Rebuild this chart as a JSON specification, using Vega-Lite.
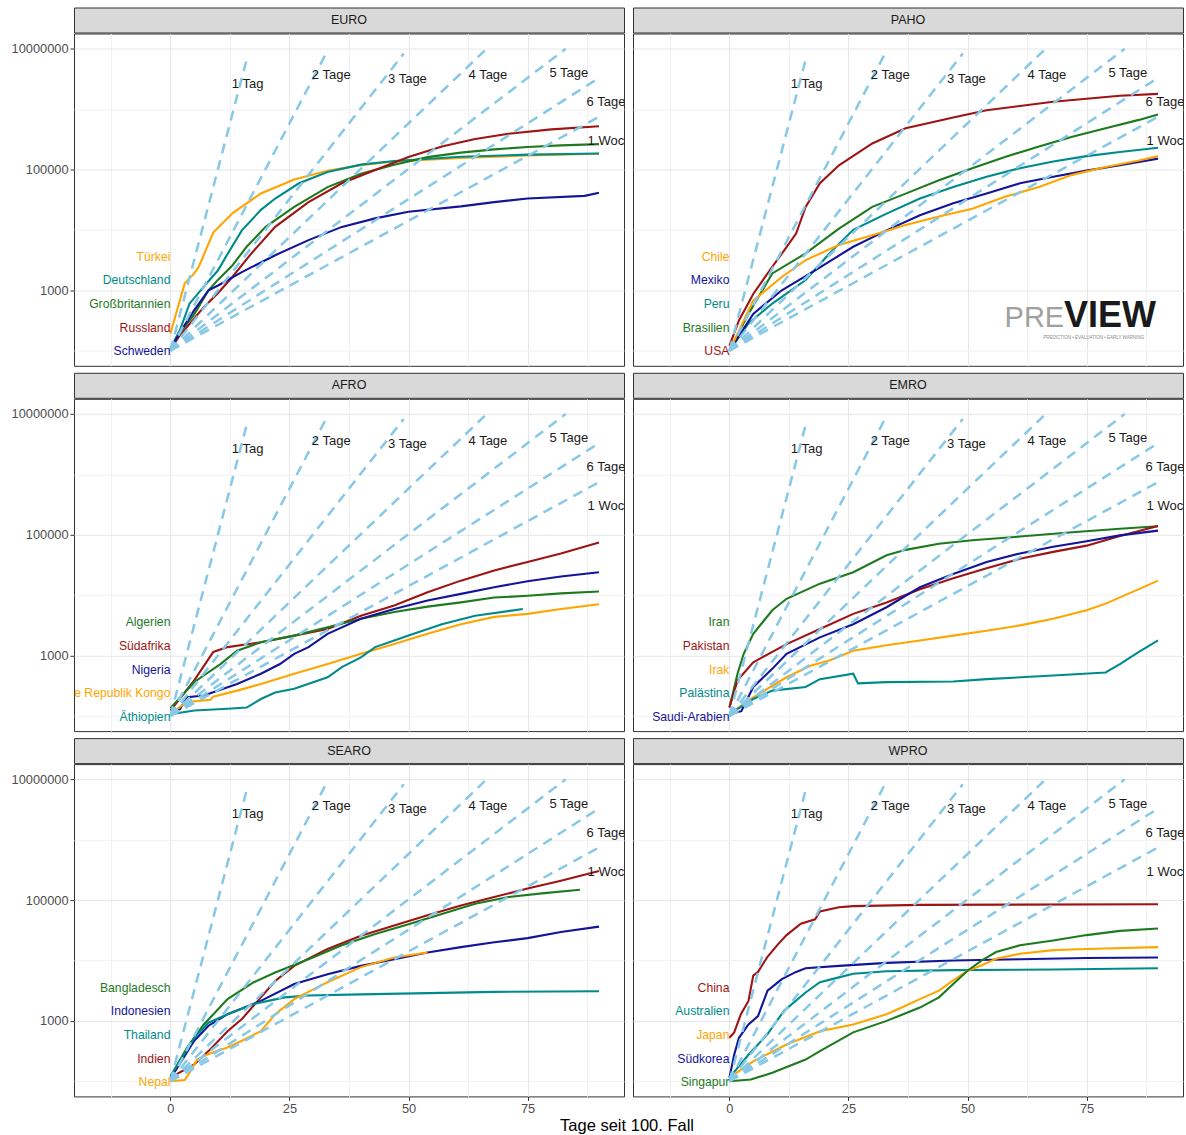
{
"$schema": "https://vega.github.io/schema/vega-lite/v6.json",
"padding": {"left": 10, "top": 6.5, "right": 0, "bottom": 0},
"background": "white",
"title": {"text": "Tage seit 100. Fall", "orient": "bottom", "anchor": "middle", "fontSize": 16.5, "fontWeight": "normal", "color": "#000000", "dx": 30, "offset": 2},
"config": {
  "font": "Liberation Sans",
  "view": {"stroke": "#333333", "strokeWidth": 1},
  "axis": {"labelColor": "#4D4D4D", "labelFontSize": 12.8, "tickColor": "#333333", "tickSize": 4, "labelPadding": 2, "domain": false, "title": null}
},
"datasets": {
"doubling": [
{"t":"1 Tag","d":0,"n":100},{"t":"1 Tag","d":16,"n":6553600},
{"t":"2 Tage","d":0,"n":100},{"t":"2 Tage","d":33,"n":9268190},
{"t":"3 Tage","d":0,"n":100},{"t":"3 Tage","d":49,"n":8256636},
{"t":"4 Tage","d":0,"n":100},{"t":"4 Tage","d":66,"n":9268190},
{"t":"5 Tage","d":0,"n":100},{"t":"5 Tage","d":83,"n":9933390},
{"t":"6 Tage","d":0,"n":100},{"t":"6 Tage","d":90,"n":3276800},
{"t":"1 Woche","d":0,"n":100},{"t":"1 Woche","d":90,"n":741800}
],
"dlabels": [
{"t":"1 Tag","d":12.9,"n":2630000},{"t":"2 Tage","d":29.7,"n":3600000},{"t":"3 Tage","d":45.7,"n":3200000},{"t":"4 Tage","d":62.6,"n":3600000},{"t":"5 Tage","d":79.6,"n":3940000},{"t":"6 Tage","d":87.4,"n":1300000},{"t":"1 Woche","d":87.6,"n":295000}
],
"clabels": [
{"r":"EURO","c":"Türkei","d":0,"n":3560},{"r":"EURO","c":"Deutschland","d":0,"n":1460},{"r":"EURO","c":"Großbritannien","d":0,"n":586},{"r":"EURO","c":"Russland","d":0,"n":238},{"r":"EURO","c":"Schweden","d":0,"n":98},
{"r":"PAHO","c":"Chile","d":0,"n":3560},{"r":"PAHO","c":"Mexiko","d":0,"n":1460},{"r":"PAHO","c":"Peru","d":0,"n":586},{"r":"PAHO","c":"Brasilien","d":0,"n":238},{"r":"PAHO","c":"USA","d":0,"n":98},
{"r":"AFRO","c":"Algerien","d":0,"n":3560},{"r":"AFRO","c":"Südafrika","d":0,"n":1460},{"r":"AFRO","c":"Nigeria","d":0,"n":586},{"r":"AFRO","c":"Demokratische Republik Kongo","d":0,"n":238},{"r":"AFRO","c":"Äthiopien","d":0,"n":98},
{"r":"EMRO","c":"Iran","d":0,"n":3560},{"r":"EMRO","c":"Pakistan","d":0,"n":1460},{"r":"EMRO","c":"Irak","d":0,"n":586},{"r":"EMRO","c":"Palästina","d":0,"n":238},{"r":"EMRO","c":"Saudi-Arabien","d":0,"n":98},
{"r":"SEARO","c":"Bangladesch","d":0,"n":3560},{"r":"SEARO","c":"Indonesien","d":0,"n":1460},{"r":"SEARO","c":"Thailand","d":0,"n":586},{"r":"SEARO","c":"Indien","d":0,"n":238},{"r":"SEARO","c":"Nepal","d":0,"n":98},
{"r":"WPRO","c":"China","d":0,"n":3560},{"r":"WPRO","c":"Australien","d":0,"n":1460},{"r":"WPRO","c":"Japan","d":0,"n":586},{"r":"WPRO","c":"Südkorea","d":0,"n":238},{"r":"WPRO","c":"Singapur","d":0,"n":98}
],
"cases": [
{"r":"EURO","c":"Türkei","d":0,"n":192},{"r":"EURO","c":"Türkei","d":3,"n":1300},{"r":"EURO","c":"Türkei","d":5,"n":1900},{"r":"EURO","c":"Türkei","d":6,"n":2500},{"r":"EURO","c":"Türkei","d":9,"n":9000},{"r":"EURO","c":"Türkei","d":13,"n":18800},{"r":"EURO","c":"Türkei","d":19,"n":40000},{"r":"EURO","c":"Türkei","d":26,"n":68000},{"r":"EURO","c":"Türkei","d":33,"n":95000},{"r":"EURO","c":"Türkei","d":40,"n":118000},{"r":"EURO","c":"Türkei","d":47,"n":135000},{"r":"EURO","c":"Türkei","d":61,"n":155000},{"r":"EURO","c":"Türkei","d":75,"n":170000},{"r":"EURO","c":"Türkei","d":90,"n":182000},
{"r":"EURO","c":"Deutschland","d":0,"n":110},{"r":"EURO","c":"Deutschland","d":2,"n":220},{"r":"EURO","c":"Deutschland","d":4,"n":600},{"r":"EURO","c":"Deutschland","d":7,"n":1150},{"r":"EURO","c":"Deutschland","d":10,"n":2140},{"r":"EURO","c":"Deutschland","d":12,"n":4000},{"r":"EURO","c":"Deutschland","d":15,"n":9800},{"r":"EURO","c":"Deutschland","d":19,"n":21400},{"r":"EURO","c":"Deutschland","d":22,"n":33000},{"r":"EURO","c":"Deutschland","d":27,"n":59000},{"r":"EURO","c":"Deutschland","d":33,"n":91000},{"r":"EURO","c":"Deutschland","d":40,"n":120000},{"r":"EURO","c":"Deutschland","d":47,"n":138000},{"r":"EURO","c":"Deutschland","d":61,"n":162000},{"r":"EURO","c":"Deutschland","d":75,"n":176000},{"r":"EURO","c":"Deutschland","d":90,"n":184000},
{"r":"EURO","c":"Großbritannien","d":0,"n":105},{"r":"EURO","c":"Großbritannien","d":2,"n":200},{"r":"EURO","c":"Großbritannien","d":5,"n":400},{"r":"EURO","c":"Großbritannien","d":8,"n":1000},{"r":"EURO","c":"Großbritannien","d":10,"n":1500},{"r":"EURO","c":"Großbritannien","d":13,"n":2570},{"r":"EURO","c":"Großbritannien","d":16,"n":5250},{"r":"EURO","c":"Großbritannien","d":20,"n":11200},{"r":"EURO","c":"Großbritannien","d":26,"n":24000},{"r":"EURO","c":"Großbritannien","d":33,"n":51000},{"r":"EURO","c":"Großbritannien","d":40,"n":85000},{"r":"EURO","c":"Großbritannien","d":47,"n":120000},{"r":"EURO","c":"Großbritannien","d":54,"n":160000},{"r":"EURO","c":"Großbritannien","d":61,"n":190000},{"r":"EURO","c":"Großbritannien","d":68,"n":215000},{"r":"EURO","c":"Großbritannien","d":75,"n":235000},{"r":"EURO","c":"Großbritannien","d":82,"n":250000},{"r":"EURO","c":"Großbritannien","d":90,"n":262000},
{"r":"EURO","c":"Russland","d":0,"n":105},{"r":"EURO","c":"Russland","d":2,"n":180},{"r":"EURO","c":"Russland","d":7,"n":525},{"r":"EURO","c":"Russland","d":10,"n":900},{"r":"EURO","c":"Russland","d":13,"n":1660},{"r":"EURO","c":"Russland","d":17,"n":4070},{"r":"EURO","c":"Russland","d":22,"n":11200},{"r":"EURO","c":"Russland","d":29,"n":28800},{"r":"EURO","c":"Russland","d":36,"n":59000},{"r":"EURO","c":"Russland","d":43,"n":98000},{"r":"EURO","c":"Russland","d":50,"n":160000},{"r":"EURO","c":"Russland","d":57,"n":240000},{"r":"EURO","c":"Russland","d":64,"n":320000},{"r":"EURO","c":"Russland","d":71,"n":390000},{"r":"EURO","c":"Russland","d":80,"n":460000},{"r":"EURO","c":"Russland","d":90,"n":520000},
{"r":"EURO","c":"Schweden","d":0,"n":105},{"r":"EURO","c":"Schweden","d":2,"n":200},{"r":"EURO","c":"Schweden","d":5,"n":470},{"r":"EURO","c":"Schweden","d":8,"n":1000},{"r":"EURO","c":"Schweden","d":10,"n":1200},{"r":"EURO","c":"Schweden","d":15,"n":2000},{"r":"EURO","c":"Schweden","d":22,"n":3800},{"r":"EURO","c":"Schweden","d":29,"n":6760},{"r":"EURO","c":"Schweden","d":36,"n":11200},{"r":"EURO","c":"Schweden","d":43,"n":15500},{"r":"EURO","c":"Schweden","d":50,"n":20000},{"r":"EURO","c":"Schweden","d":61,"n":24500},{"r":"EURO","c":"Schweden","d":68,"n":28800},{"r":"EURO","c":"Schweden","d":75,"n":33100},{"r":"EURO","c":"Schweden","d":87,"n":36500},{"r":"EURO","c":"Schweden","d":90,"n":41000},
{"r":"PAHO","c":"USA","d":0,"n":120},{"r":"PAHO","c":"USA","d":2,"n":316},{"r":"PAHO","c":"USA","d":5,"n":870},{"r":"PAHO","c":"USA","d":9,"n":2450},{"r":"PAHO","c":"USA","d":11.5,"n":4570},{"r":"PAHO","c":"USA","d":14,"n":8700},{"r":"PAHO","c":"USA","d":16,"n":24000},{"r":"PAHO","c":"USA","d":19,"n":59000},{"r":"PAHO","c":"USA","d":23,"n":117000},{"r":"PAHO","c":"USA","d":30,"n":269000},{"r":"PAHO","c":"USA","d":37,"n":479000},{"r":"PAHO","c":"USA","d":47,"n":724000},{"r":"PAHO","c":"USA","d":54,"n":955000},{"r":"PAHO","c":"USA","d":68,"n":1320000},{"r":"PAHO","c":"USA","d":82,"n":1660000},{"r":"PAHO","c":"USA","d":90,"n":1780000},
{"r":"PAHO","c":"Brasilien","d":0,"n":100},{"r":"PAHO","c":"Brasilien","d":4,"n":407},{"r":"PAHO","c":"Brasilien","d":9,"n":1900},{"r":"PAHO","c":"Brasilien","d":16,"n":4070},{"r":"PAHO","c":"Brasilien","d":23,"n":10500},{"r":"PAHO","c":"Brasilien","d":30,"n":24000},{"r":"PAHO","c":"Brasilien","d":37,"n":39800},{"r":"PAHO","c":"Brasilien","d":44,"n":66000},{"r":"PAHO","c":"Brasilien","d":51,"n":105000},{"r":"PAHO","c":"Brasilien","d":58,"n":162000},{"r":"PAHO","c":"Brasilien","d":65,"n":240000},{"r":"PAHO","c":"Brasilien","d":72,"n":347000},{"r":"PAHO","c":"Brasilien","d":79,"n":479000},{"r":"PAHO","c":"Brasilien","d":86,"n":661000},{"r":"PAHO","c":"Brasilien","d":90,"n":813000},
{"r":"PAHO","c":"Peru","d":0,"n":100},{"r":"PAHO","c":"Peru","d":4,"n":282},{"r":"PAHO","c":"Peru","d":9,"n":603},{"r":"PAHO","c":"Peru","d":16,"n":1480},{"r":"PAHO","c":"Peru","d":21,"n":4070},{"r":"PAHO","c":"Peru","d":26,"n":10000},{"r":"PAHO","c":"Peru","d":33,"n":18600},{"r":"PAHO","c":"Peru","d":40,"n":33100},{"r":"PAHO","c":"Peru","d":47,"n":51300},{"r":"PAHO","c":"Peru","d":54,"n":75900},{"r":"PAHO","c":"Peru","d":61,"n":105000},{"r":"PAHO","c":"Peru","d":68,"n":135000},{"r":"PAHO","c":"Peru","d":75,"n":166000},{"r":"PAHO","c":"Peru","d":82,"n":195000},{"r":"PAHO","c":"Peru","d":90,"n":229000},
{"r":"PAHO","c":"Mexiko","d":0,"n":100},{"r":"PAHO","c":"Mexiko","d":5,"n":407},{"r":"PAHO","c":"Mexiko","d":11,"n":1000},{"r":"PAHO","c":"Mexiko","d":18,"n":2140},{"r":"PAHO","c":"Mexiko","d":26,"n":5250},{"r":"PAHO","c":"Mexiko","d":33,"n":9800},{"r":"PAHO","c":"Mexiko","d":40,"n":17400},{"r":"PAHO","c":"Mexiko","d":47,"n":27500},{"r":"PAHO","c":"Mexiko","d":54,"n":39800},{"r":"PAHO","c":"Mexiko","d":61,"n":58900},{"r":"PAHO","c":"Mexiko","d":68,"n":75900},{"r":"PAHO","c":"Mexiko","d":75,"n":95500},{"r":"PAHO","c":"Mexiko","d":82,"n":117000},{"r":"PAHO","c":"Mexiko","d":90,"n":151000},
{"r":"PAHO","c":"Chile","d":0,"n":100},{"r":"PAHO","c":"Chile","d":5,"n":676},{"r":"PAHO","c":"Chile","d":11,"n":1660},{"r":"PAHO","c":"Chile","d":16,"n":3160},{"r":"PAHO","c":"Chile","d":23,"n":5620},{"r":"PAHO","c":"Chile","d":30,"n":8130},{"r":"PAHO","c":"Chile","d":37,"n":12000},{"r":"PAHO","c":"Chile","d":44,"n":16600},{"r":"PAHO","c":"Chile","d":51,"n":22400},{"r":"PAHO","c":"Chile","d":58,"n":35500},{"r":"PAHO","c":"Chile","d":65,"n":51300},{"r":"PAHO","c":"Chile","d":72,"n":81300},{"r":"PAHO","c":"Chile","d":79,"n":110000},{"r":"PAHO","c":"Chile","d":86,"n":141000},{"r":"PAHO","c":"Chile","d":90,"n":166000},
{"r":"AFRO","c":"Südafrika","d":0,"n":123},{"r":"AFRO","c":"Südafrika","d":5,"n":389},{"r":"AFRO","c":"Südafrika","d":9,"n":1150},{"r":"AFRO","c":"Südafrika","d":12,"n":1380},{"r":"AFRO","c":"Südafrika","d":19,"n":1660},{"r":"AFRO","c":"Südafrika","d":26,"n":2140},{"r":"AFRO","c":"Südafrika","d":33,"n":2750},{"r":"AFRO","c":"Südafrika","d":40,"n":4570},{"r":"AFRO","c":"Südafrika","d":47,"n":6760},{"r":"AFRO","c":"Südafrika","d":54,"n":11200},{"r":"AFRO","c":"Südafrika","d":61,"n":17400},{"r":"AFRO","c":"Südafrika","d":68,"n":25700},{"r":"AFRO","c":"Südafrika","d":75,"n":35500},{"r":"AFRO","c":"Südafrika","d":82,"n":49000},{"r":"AFRO","c":"Südafrika","d":90,"n":74100},
{"r":"AFRO","c":"Algerien","d":0,"n":135},{"r":"AFRO","c":"Algerien","d":5,"n":363},{"r":"AFRO","c":"Algerien","d":7,"n":468},{"r":"AFRO","c":"Algerien","d":10.5,"n":724},{"r":"AFRO","c":"Algerien","d":14,"n":1200},{"r":"AFRO","c":"Algerien","d":19,"n":1660},{"r":"AFRO","c":"Algerien","d":26,"n":2140},{"r":"AFRO","c":"Algerien","d":33,"n":2950},{"r":"AFRO","c":"Algerien","d":40,"n":4070},{"r":"AFRO","c":"Algerien","d":47,"n":5250},{"r":"AFRO","c":"Algerien","d":54,"n":6460},{"r":"AFRO","c":"Algerien","d":61,"n":7590},{"r":"AFRO","c":"Algerien","d":68,"n":9120},{"r":"AFRO","c":"Algerien","d":75,"n":9770},{"r":"AFRO","c":"Algerien","d":82,"n":10700},{"r":"AFRO","c":"Algerien","d":90,"n":11500},
{"r":"AFRO","c":"Nigeria","d":0,"n":110},{"r":"AFRO","c":"Nigeria","d":2,"n":130},{"r":"AFRO","c":"Nigeria","d":3.5,"n":204},{"r":"AFRO","c":"Nigeria","d":7,"n":219},{"r":"AFRO","c":"Nigeria","d":14,"n":339},{"r":"AFRO","c":"Nigeria","d":19,"n":501},{"r":"AFRO","c":"Nigeria","d":23,"n":724},{"r":"AFRO","c":"Nigeria","d":26,"n":1070},{"r":"AFRO","c":"Nigeria","d":29,"n":1380},{"r":"AFRO","c":"Nigeria","d":33,"n":2290},{"r":"AFRO","c":"Nigeria","d":40,"n":4070},{"r":"AFRO","c":"Nigeria","d":47,"n":5890},{"r":"AFRO","c":"Nigeria","d":54,"n":8130},{"r":"AFRO","c":"Nigeria","d":61,"n":10500},{"r":"AFRO","c":"Nigeria","d":68,"n":13500},{"r":"AFRO","c":"Nigeria","d":75,"n":17000},{"r":"AFRO","c":"Nigeria","d":82,"n":20400},{"r":"AFRO","c":"Nigeria","d":90,"n":24000},
{"r":"AFRO","c":"Demokratische Republik Kongo","d":0,"n":110},{"r":"AFRO","c":"Demokratische Republik Kongo","d":3.5,"n":170},{"r":"AFRO","c":"Demokratische Republik Kongo","d":8.4,"n":186},{"r":"AFRO","c":"Demokratische Republik Kongo","d":9,"n":209},{"r":"AFRO","c":"Demokratische Republik Kongo","d":14,"n":263},{"r":"AFRO","c":"Demokratische Republik Kongo","d":19,"n":339},{"r":"AFRO","c":"Demokratische Republik Kongo","d":26,"n":501},{"r":"AFRO","c":"Demokratische Republik Kongo","d":33,"n":724},{"r":"AFRO","c":"Demokratische Republik Kongo","d":40,"n":1070},{"r":"AFRO","c":"Demokratische Republik Kongo","d":47,"n":1550},{"r":"AFRO","c":"Demokratische Republik Kongo","d":54,"n":2290},{"r":"AFRO","c":"Demokratische Republik Kongo","d":61,"n":3310},{"r":"AFRO","c":"Demokratische Republik Kongo","d":68,"n":4370},{"r":"AFRO","c":"Demokratische Republik Kongo","d":75,"n":4900},{"r":"AFRO","c":"Demokratische Republik Kongo","d":82,"n":5890},{"r":"AFRO","c":"Demokratische Republik Kongo","d":90,"n":7080},
{"r":"AFRO","c":"Äthiopien","d":0,"n":107},{"r":"AFRO","c":"Äthiopien","d":5,"n":123},{"r":"AFRO","c":"Äthiopien","d":12,"n":132},{"r":"AFRO","c":"Äthiopien","d":16,"n":138},{"r":"AFRO","c":"Äthiopien","d":19,"n":191},{"r":"AFRO","c":"Äthiopien","d":22,"n":245},{"r":"AFRO","c":"Äthiopien","d":26,"n":282},{"r":"AFRO","c":"Äthiopien","d":33,"n":437},{"r":"AFRO","c":"Äthiopien","d":36,"n":646},{"r":"AFRO","c":"Äthiopien","d":40,"n":933},{"r":"AFRO","c":"Äthiopien","d":43,"n":1380},{"r":"AFRO","c":"Äthiopien","d":47,"n":1780},{"r":"AFRO","c":"Äthiopien","d":50,"n":2140},{"r":"AFRO","c":"Äthiopien","d":57,"n":3310},{"r":"AFRO","c":"Äthiopien","d":64,"n":4570},{"r":"AFRO","c":"Äthiopien","d":74,"n":5890},
{"r":"EMRO","c":"Iran","d":0,"n":138},{"r":"EMRO","c":"Iran","d":1.7,"n":501},{"r":"EMRO","c":"Iran","d":3,"n":1070},{"r":"EMRO","c":"Iran","d":5,"n":2290},{"r":"EMRO","c":"Iran","d":9,"n":5620},{"r":"EMRO","c":"Iran","d":12,"n":8710},{"r":"EMRO","c":"Iran","d":19,"n":15500},{"r":"EMRO","c":"Iran","d":26,"n":24000},{"r":"EMRO","c":"Iran","d":33,"n":45700},{"r":"EMRO","c":"Iran","d":37,"n":56200},{"r":"EMRO","c":"Iran","d":44,"n":70800},{"r":"EMRO","c":"Iran","d":51,"n":81300},{"r":"EMRO","c":"Iran","d":61,"n":93300},{"r":"EMRO","c":"Iran","d":72,"n":110000},{"r":"EMRO","c":"Iran","d":82,"n":126000},{"r":"EMRO","c":"Iran","d":90,"n":138000},
{"r":"EMRO","c":"Pakistan","d":0,"n":138},{"r":"EMRO","c":"Pakistan","d":1.7,"n":389},{"r":"EMRO","c":"Pakistan","d":5,"n":776},{"r":"EMRO","c":"Pakistan","d":9,"n":1150},{"r":"EMRO","c":"Pakistan","d":12,"n":1550},{"r":"EMRO","c":"Pakistan","d":19,"n":2750},{"r":"EMRO","c":"Pakistan","d":26,"n":4900},{"r":"EMRO","c":"Pakistan","d":33,"n":7590},{"r":"EMRO","c":"Pakistan","d":40,"n":12500},{"r":"EMRO","c":"Pakistan","d":47,"n":19000},{"r":"EMRO","c":"Pakistan","d":54,"n":28000},{"r":"EMRO","c":"Pakistan","d":61,"n":40000},{"r":"EMRO","c":"Pakistan","d":68,"n":52000},{"r":"EMRO","c":"Pakistan","d":75,"n":66000},{"r":"EMRO","c":"Pakistan","d":82,"n":95000},{"r":"EMRO","c":"Pakistan","d":90,"n":140000},
{"r":"EMRO","c":"Saudi-Arabien","d":0,"n":107},{"r":"EMRO","c":"Saudi-Arabien","d":2.5,"n":120},{"r":"EMRO","c":"Saudi-Arabien","d":5,"n":302},{"r":"EMRO","c":"Saudi-Arabien","d":9,"n":603},{"r":"EMRO","c":"Saudi-Arabien","d":12,"n":1070},{"r":"EMRO","c":"Saudi-Arabien","d":19,"n":2000},{"r":"EMRO","c":"Saudi-Arabien","d":26,"n":3310},{"r":"EMRO","c":"Saudi-Arabien","d":33,"n":6310},{"r":"EMRO","c":"Saudi-Arabien","d":37,"n":9770},{"r":"EMRO","c":"Saudi-Arabien","d":40,"n":13500},{"r":"EMRO","c":"Saudi-Arabien","d":47,"n":22400},{"r":"EMRO","c":"Saudi-Arabien","d":54,"n":35500},{"r":"EMRO","c":"Saudi-Arabien","d":61,"n":49000},{"r":"EMRO","c":"Saudi-Arabien","d":68,"n":63100},{"r":"EMRO","c":"Saudi-Arabien","d":75,"n":78000},{"r":"EMRO","c":"Saudi-Arabien","d":82,"n":97700},{"r":"EMRO","c":"Saudi-Arabien","d":90,"n":117000},
{"r":"EMRO","c":"Irak","d":0,"n":107},{"r":"EMRO","c":"Irak","d":5,"n":204},{"r":"EMRO","c":"Irak","d":12,"n":437},{"r":"EMRO","c":"Irak","d":17,"n":676},{"r":"EMRO","c":"Irak","d":21,"n":832},{"r":"EMRO","c":"Irak","d":26,"n":1200},{"r":"EMRO","c":"Irak","d":33,"n":1480},{"r":"EMRO","c":"Irak","d":40,"n":1780},{"r":"EMRO","c":"Irak","d":47,"n":2140},{"r":"EMRO","c":"Irak","d":54,"n":2570},{"r":"EMRO","c":"Irak","d":61,"n":3160},{"r":"EMRO","c":"Irak","d":68,"n":4070},{"r":"EMRO","c":"Irak","d":75,"n":5620},{"r":"EMRO","c":"Irak","d":79,"n":7240},{"r":"EMRO","c":"Irak","d":86,"n":12600},{"r":"EMRO","c":"Irak","d":90,"n":17400},
{"r":"EMRO","c":"Palästina","d":0,"n":107},{"r":"EMRO","c":"Palästina","d":5,"n":191},{"r":"EMRO","c":"Palästina","d":9,"n":263},{"r":"EMRO","c":"Palästina","d":16,"n":302},{"r":"EMRO","c":"Palästina","d":19,"n":407},{"r":"EMRO","c":"Palästina","d":26,"n":501},{"r":"EMRO","c":"Palästina","d":27,"n":347},{"r":"EMRO","c":"Palästina","d":33,"n":363},{"r":"EMRO","c":"Palästina","d":47,"n":372},{"r":"EMRO","c":"Palästina","d":54,"n":407},{"r":"EMRO","c":"Palästina","d":68,"n":468},{"r":"EMRO","c":"Palästina","d":79,"n":525},{"r":"EMRO","c":"Palästina","d":82,"n":724},{"r":"EMRO","c":"Palästina","d":86,"n":1150},{"r":"EMRO","c":"Palästina","d":90,"n":1780},
{"r":"SEARO","c":"Indien","d":0,"n":115},{"r":"SEARO","c":"Indien","d":5,"n":191},{"r":"SEARO","c":"Indien","d":8,"n":316},{"r":"SEARO","c":"Indien","d":12,"n":676},{"r":"SEARO","c":"Indien","d":15,"n":1070},{"r":"SEARO","c":"Indien","d":19,"n":2450},{"r":"SEARO","c":"Indien","d":22,"n":4570},{"r":"SEARO","c":"Indien","d":26,"n":8130},{"r":"SEARO","c":"Indien","d":33,"n":15500},{"r":"SEARO","c":"Indien","d":40,"n":25700},{"r":"SEARO","c":"Indien","d":47,"n":38000},{"r":"SEARO","c":"Indien","d":54,"n":56200},{"r":"SEARO","c":"Indien","d":61,"n":81300},{"r":"SEARO","c":"Indien","d":68,"n":112000},{"r":"SEARO","c":"Indien","d":75,"n":155000},{"r":"SEARO","c":"Indien","d":82,"n":209000},{"r":"SEARO","c":"Indien","d":90,"n":302000},
{"r":"SEARO","c":"Bangladesch","d":0,"n":120},{"r":"SEARO","c":"Bangladesch","d":3.5,"n":363},{"r":"SEARO","c":"Bangladesch","d":7,"n":871},{"r":"SEARO","c":"Bangladesch","d":12,"n":2290},{"r":"SEARO","c":"Bangladesch","d":17.5,"n":4370},{"r":"SEARO","c":"Bangladesch","d":22,"n":6310},{"r":"SEARO","c":"Bangladesch","d":29,"n":10500},{"r":"SEARO","c":"Bangladesch","d":36,"n":17800},{"r":"SEARO","c":"Bangladesch","d":43,"n":27500},{"r":"SEARO","c":"Bangladesch","d":50,"n":39800},{"r":"SEARO","c":"Bangladesch","d":57,"n":58900},{"r":"SEARO","c":"Bangladesch","d":64,"n":87100},{"r":"SEARO","c":"Bangladesch","d":71,"n":112000},{"r":"SEARO","c":"Bangladesch","d":78,"n":129000},{"r":"SEARO","c":"Bangladesch","d":86,"n":148000},
{"r":"SEARO","c":"Indonesien","d":0,"n":110},{"r":"SEARO","c":"Indonesien","d":5,"n":468},{"r":"SEARO","c":"Indonesien","d":8,"n":832},{"r":"SEARO","c":"Indonesien","d":12,"n":1290},{"r":"SEARO","c":"Indonesien","d":19,"n":2140},{"r":"SEARO","c":"Indonesien","d":26,"n":4070},{"r":"SEARO","c":"Indonesien","d":33,"n":5890},{"r":"SEARO","c":"Indonesien","d":40,"n":8130},{"r":"SEARO","c":"Indonesien","d":47,"n":10500},{"r":"SEARO","c":"Indonesien","d":54,"n":13500},{"r":"SEARO","c":"Indonesien","d":61,"n":16600},{"r":"SEARO","c":"Indonesien","d":68,"n":20000},{"r":"SEARO","c":"Indonesien","d":75,"n":23400},{"r":"SEARO","c":"Indonesien","d":82,"n":29500},{"r":"SEARO","c":"Indonesien","d":90,"n":36300},
{"r":"SEARO","c":"Thailand","d":0,"n":120},{"r":"SEARO","c":"Thailand","d":5,"n":525},{"r":"SEARO","c":"Thailand","d":8,"n":933},{"r":"SEARO","c":"Thailand","d":12,"n":1290},{"r":"SEARO","c":"Thailand","d":17.5,"n":1910},{"r":"SEARO","c":"Thailand","d":24,"n":2450},{"r":"SEARO","c":"Thailand","d":29,"n":2630},{"r":"SEARO","c":"Thailand","d":40,"n":2750},{"r":"SEARO","c":"Thailand","d":54,"n":2880},{"r":"SEARO","c":"Thailand","d":68,"n":3020},{"r":"SEARO","c":"Thailand","d":90,"n":3090},
{"r":"SEARO","c":"Nepal","d":0,"n":100},{"r":"SEARO","c":"Nepal","d":3,"n":105},{"r":"SEARO","c":"Nepal","d":4,"n":138},{"r":"SEARO","c":"Nepal","d":5.6,"n":229},{"r":"SEARO","c":"Nepal","d":8,"n":282},{"r":"SEARO","c":"Nepal","d":12,"n":363},{"r":"SEARO","c":"Nepal","d":15,"n":468},{"r":"SEARO","c":"Nepal","d":19,"n":676},{"r":"SEARO","c":"Nepal","d":22,"n":1290},{"r":"SEARO","c":"Nepal","d":26,"n":2290},{"r":"SEARO","c":"Nepal","d":33,"n":4370},{"r":"SEARO","c":"Nepal","d":40,"n":7760},{"r":"SEARO","c":"Nepal","d":47,"n":11200},{"r":"SEARO","c":"Nepal","d":54,"n":13500},
{"r":"WPRO","c":"China","d":0,"n":525},{"r":"WPRO","c":"China","d":1,"n":646},{"r":"WPRO","c":"China","d":2.4,"n":1290},{"r":"WPRO","c":"China","d":4,"n":2140},{"r":"WPRO","c":"China","d":5,"n":5620},{"r":"WPRO","c":"China","d":6,"n":6460},{"r":"WPRO","c":"China","d":8,"n":11500},{"r":"WPRO","c":"China","d":10,"n":17800},{"r":"WPRO","c":"China","d":12,"n":26300},{"r":"WPRO","c":"China","d":15,"n":40700},{"r":"WPRO","c":"China","d":18,"n":47900},{"r":"WPRO","c":"China","d":19,"n":64600},{"r":"WPRO","c":"China","d":23,"n":75900},{"r":"WPRO","c":"China","d":26,"n":79400},{"r":"WPRO","c":"China","d":40,"n":83200},{"r":"WPRO","c":"China","d":90,"n":85100},
{"r":"WPRO","c":"Südkorea","d":0,"n":115},{"r":"WPRO","c":"Südkorea","d":1,"n":275},{"r":"WPRO","c":"Südkorea","d":2,"n":525},{"r":"WPRO","c":"Südkorea","d":4,"n":871},{"r":"WPRO","c":"Südkorea","d":6,"n":1200},{"r":"WPRO","c":"Südkorea","d":8,"n":3160},{"r":"WPRO","c":"Südkorea","d":11,"n":4900},{"r":"WPRO","c":"Südkorea","d":14,"n":6460},{"r":"WPRO","c":"Südkorea","d":16,"n":7410},{"r":"WPRO","c":"Südkorea","d":23,"n":8130},{"r":"WPRO","c":"Südkorea","d":33,"n":9120},{"r":"WPRO","c":"Südkorea","d":47,"n":10000},{"r":"WPRO","c":"Südkorea","d":61,"n":10500},{"r":"WPRO","c":"Südkorea","d":75,"n":11000},{"r":"WPRO","c":"Südkorea","d":90,"n":11200},
{"r":"WPRO","c":"Australien","d":0,"n":115},{"r":"WPRO","c":"Australien","d":4,"n":275},{"r":"WPRO","c":"Australien","d":8,"n":603},{"r":"WPRO","c":"Australien","d":11.5,"n":1480},{"r":"WPRO","c":"Australien","d":16,"n":2950},{"r":"WPRO","c":"Australien","d":19,"n":4370},{"r":"WPRO","c":"Australien","d":23,"n":5250},{"r":"WPRO","c":"Australien","d":26,"n":6030},{"r":"WPRO","c":"Australien","d":33,"n":6610},{"r":"WPRO","c":"Australien","d":47,"n":6920},{"r":"WPRO","c":"Australien","d":68,"n":7080},{"r":"WPRO","c":"Australien","d":90,"n":7410},
{"r":"WPRO","c":"Japan","d":0,"n":115},{"r":"WPRO","c":"Japan","d":5,"n":214},{"r":"WPRO","c":"Japan","d":12,"n":407},{"r":"WPRO","c":"Japan","d":19,"n":676},{"r":"WPRO","c":"Japan","d":26,"n":871},{"r":"WPRO","c":"Japan","d":33,"n":1290},{"r":"WPRO","c":"Japan","d":37,"n":1780},{"r":"WPRO","c":"Japan","d":40,"n":2290},{"r":"WPRO","c":"Japan","d":44,"n":3160},{"r":"WPRO","c":"Japan","d":47,"n":4680},{"r":"WPRO","c":"Japan","d":50,"n":6760},{"r":"WPRO","c":"Japan","d":53,"n":8320},{"r":"WPRO","c":"Japan","d":56,"n":10700},{"r":"WPRO","c":"Japan","d":61,"n":12900},{"r":"WPRO","c":"Japan","d":68,"n":14800},{"r":"WPRO","c":"Japan","d":75,"n":15500},{"r":"WPRO","c":"Japan","d":90,"n":16600},
{"r":"WPRO","c":"Singapur","d":0,"n":100},{"r":"WPRO","c":"Singapur","d":4.5,"n":107},{"r":"WPRO","c":"Singapur","d":9,"n":138},{"r":"WPRO","c":"Singapur","d":16,"n":229},{"r":"WPRO","c":"Singapur","d":19,"n":316},{"r":"WPRO","c":"Singapur","d":26,"n":646},{"r":"WPRO","c":"Singapur","d":33,"n":1000},{"r":"WPRO","c":"Singapur","d":40,"n":1660},{"r":"WPRO","c":"Singapur","d":44,"n":2450},{"r":"WPRO","c":"Singapur","d":47,"n":4070},{"r":"WPRO","c":"Singapur","d":50,"n":6760},{"r":"WPRO","c":"Singapur","d":53,"n":10000},{"r":"WPRO","c":"Singapur","d":56,"n":13800},{"r":"WPRO","c":"Singapur","d":61,"n":17800},{"r":"WPRO","c":"Singapur","d":68,"n":21400},{"r":"WPRO","c":"Singapur","d":75,"n":26300},{"r":"WPRO","c":"Singapur","d":82,"n":30900},{"r":"WPRO","c":"Singapur","d":90,"n":33900}
]
},
"spacing": 5.3,
"vconcat": [
{"spacing": 7, "hconcat": [
 {"spacing": -1, "vconcat": [
  {"width": 550, "height": 25, "data": {"values": [{"r": "EURO"}]}, "view": {"fill": "#D9D9D9", "stroke": "#333333"}, "mark": {"type": "text", "fontSize": 12.5, "color": "#1A1A1A"}, "encoding": {"text": {"field": "r", "type": "nominal"}}},
  {"width": 550, "height": 332.3,
   "encoding": {
    "x": {"field": "d", "type": "quantitative", "scale": {"domain": [-20.25, 95.25], "nice": false, "zero": false}, "axis": {"values": [-12.5, 0, 12.5, 25, 37.5, 50, 62.5, 75, 87.5], "labels": false, "ticks": false, "minExtent": 0, "maxExtent": 0, "gridColor": {"condition": {"test": "datum.value % 25 == 0", "value": "#E6E6E6"}, "value": "#F2F2F2"}}},
    "y": {"field": "n", "type": "quantitative", "scale": {"type": "log", "domain": [56.234, 17782794], "nice": false}, "axis": {"values": [100, 1000, 10000, 100000, 1000000, 10000000], "format": "d", "labelExpr": "(datum.value == 1000 || datum.value == 100000 || datum.value == 10000000) ? datum.label : ''", "tickOpacity": {"condition": {"test": "datum.value == 1000 || datum.value == 100000 || datum.value == 10000000", "value": 1}, "value": 0}, "gridColor": {"condition": {"test": "datum.value == 1000 || datum.value == 100000 || datum.value == 10000000", "value": "#E6E6E6"}, "value": "#F2F2F2"}}}
   },
   "layer": [
    {"data": {"name": "cases"}, "transform": [{"filter": "datum.r == 'EURO'"}], "mark": {"type": "line", "strokeWidth": 2.1, "clip": true}, "encoding": {"color": {"field": "c", "type": "nominal", "legend": null, "scale": {"domain": ["Türkei","Deutschland","Großbritannien","Russland","Schweden","Chile","Mexiko","Peru","Brasilien","USA","Algerien","Südafrika","Nigeria","Demokratische Republik Kongo","Äthiopien","Iran","Pakistan","Irak","Palästina","Saudi-Arabien","Bangladesch","Indonesien","Thailand","Indien","Nepal","China","Australien","Japan","Südkorea","Singapur"], "range": ["#FFA500","#008B8B","#1E7A1E","#9E1414","#14149A","#FFA500","#14149A","#008B8B","#1E7A1E","#9E1414","#1E7A1E","#9E1414","#14149A","#FFA500","#008B8B","#1E7A1E","#9E1414","#FFA500","#008B8B","#14149A","#1E7A1E","#14149A","#008B8B","#9E1414","#FFA500","#9E1414","#008B8B","#FFA500","#14149A","#1E7A1E"]}}}},
    {"data": {"name": "doubling"}, "mark": {"type": "line", "strokeWidth": 2.5, "strokeDash": [10, 7], "color": "#87C8E6", "clip": true}, "encoding": {"detail": {"field": "t", "type": "nominal"}}},
    {"data": {"name": "dlabels"}, "mark": {"type": "text", "align": "left", "baseline": "middle", "fontSize": 13, "color": "#1A1A1A", "clip": true}, "encoding": {"text": {"field": "t", "type": "nominal"}}},
    {"data": {"name": "clabels"}, "transform": [{"filter": "datum.r == 'EURO'"}], "mark": {"type": "text", "align": "right", "baseline": "middle", "fontSize": 12.2, "clip": true}, "encoding": {"text": {"field": "c", "type": "nominal"}, "color": {"field": "c", "type": "nominal", "legend": null}}}
   ]}
 ]},
 {"spacing": -1, "vconcat": [
  {"width": 550, "height": 25, "data": {"values": [{"r": "PAHO"}]}, "view": {"fill": "#D9D9D9", "stroke": "#333333"}, "mark": {"type": "text", "fontSize": 12.5, "color": "#1A1A1A"}, "encoding": {"text": {"field": "r", "type": "nominal"}}},
  {"width": 550, "height": 332.3,
   "encoding": {
    "x": {"field": "d", "type": "quantitative", "scale": {"domain": [-20.25, 95.25], "nice": false, "zero": false}, "axis": {"values": [-12.5, 0, 12.5, 25, 37.5, 50, 62.5, 75, 87.5], "labels": false, "ticks": false, "minExtent": 0, "maxExtent": 0, "gridColor": {"condition": {"test": "datum.value % 25 == 0", "value": "#E6E6E6"}, "value": "#F2F2F2"}}},
    "y": {"field": "n", "type": "quantitative", "scale": {"type": "log", "domain": [56.234, 17782794], "nice": false}, "axis": {"values": [100, 1000, 10000, 100000, 1000000, 10000000], "labels": false, "ticks": false, "minExtent": 0, "maxExtent": 0, "gridColor": {"condition": {"test": "datum.value == 1000 || datum.value == 100000 || datum.value == 10000000", "value": "#E6E6E6"}, "value": "#F2F2F2"}}}
   },
   "layer": [
    {"data": {"name": "cases"}, "transform": [{"filter": "datum.r == 'PAHO'"}], "mark": {"type": "line", "strokeWidth": 2.1, "clip": true}, "encoding": {"color": {"field": "c", "type": "nominal", "legend": null, "scale": {"domain": ["Türkei","Deutschland","Großbritannien","Russland","Schweden","Chile","Mexiko","Peru","Brasilien","USA","Algerien","Südafrika","Nigeria","Demokratische Republik Kongo","Äthiopien","Iran","Pakistan","Irak","Palästina","Saudi-Arabien","Bangladesch","Indonesien","Thailand","Indien","Nepal","China","Australien","Japan","Südkorea","Singapur"], "range": ["#FFA500","#008B8B","#1E7A1E","#9E1414","#14149A","#FFA500","#14149A","#008B8B","#1E7A1E","#9E1414","#1E7A1E","#9E1414","#14149A","#FFA500","#008B8B","#1E7A1E","#9E1414","#FFA500","#008B8B","#14149A","#1E7A1E","#14149A","#008B8B","#9E1414","#FFA500","#9E1414","#008B8B","#FFA500","#14149A","#1E7A1E"]}}}},
    {"data": {"name": "doubling"}, "mark": {"type": "line", "strokeWidth": 2.5, "strokeDash": [10, 7], "color": "#87C8E6", "clip": true}, "encoding": {"detail": {"field": "t", "type": "nominal"}}},
    {"data": {"name": "dlabels"}, "mark": {"type": "text", "align": "left", "baseline": "middle", "fontSize": 13, "color": "#1A1A1A", "clip": true}, "encoding": {"text": {"field": "t", "type": "nominal"}}},
    {"data": {"name": "clabels"}, "transform": [{"filter": "datum.r == 'PAHO'"}], "mark": {"type": "text", "align": "right", "baseline": "middle", "fontSize": 12.2, "clip": true}, "encoding": {"text": {"field": "c", "type": "nominal"}, "color": {"field": "c", "type": "nominal", "legend": null}}},
    {"data": {"values": [{"w": "PRE", "d": 70.3, "n": 245}]}, "mark": {"type": "text", "align": "right", "baseline": "alphabetic", "fontSize": 29, "color": "#A0A0A0"}, "encoding": {"text": {"field": "w", "type": "nominal"}}},
    {"data": {"values": [{"w": "VIEW", "d": 89.6, "n": 245}]}, "mark": {"type": "text", "align": "right", "baseline": "alphabetic", "fontSize": 36, "fontWeight": "bold", "color": "#1A1A1A"}, "encoding": {"text": {"field": "w", "type": "nominal"}}},
    {"data": {"values": [{"w": "PREDICTION • EVALUATION • EARLY WARNING", "d": 65.9, "n": 160}]}, "mark": {"type": "text", "align": "left", "baseline": "middle", "fontSize": 4.5, "color": "#8A8A8A"}, "encoding": {"text": {"field": "w", "type": "nominal"}}}
   ]}
 ]}
]},
{"spacing": 7, "hconcat": [
 {"spacing": -1, "vconcat": [
  {"width": 550, "height": 25, "data": {"values": [{"r": "AFRO"}]}, "view": {"fill": "#D9D9D9", "stroke": "#333333"}, "mark": {"type": "text", "fontSize": 12.5, "color": "#1A1A1A"}, "encoding": {"text": {"field": "r", "type": "nominal"}}},
  {"width": 550, "height": 332.3,
   "encoding": {
    "x": {"field": "d", "type": "quantitative", "scale": {"domain": [-20.25, 95.25], "nice": false, "zero": false}, "axis": {"values": [-12.5, 0, 12.5, 25, 37.5, 50, 62.5, 75, 87.5], "labels": false, "ticks": false, "minExtent": 0, "maxExtent": 0, "gridColor": {"condition": {"test": "datum.value % 25 == 0", "value": "#E6E6E6"}, "value": "#F2F2F2"}}},
    "y": {"field": "n", "type": "quantitative", "scale": {"type": "log", "domain": [56.234, 17782794], "nice": false}, "axis": {"values": [100, 1000, 10000, 100000, 1000000, 10000000], "format": "d", "labelExpr": "(datum.value == 1000 || datum.value == 100000 || datum.value == 10000000) ? datum.label : ''", "tickOpacity": {"condition": {"test": "datum.value == 1000 || datum.value == 100000 || datum.value == 10000000", "value": 1}, "value": 0}, "gridColor": {"condition": {"test": "datum.value == 1000 || datum.value == 100000 || datum.value == 10000000", "value": "#E6E6E6"}, "value": "#F2F2F2"}}}
   },
   "layer": [
    {"data": {"name": "cases"}, "transform": [{"filter": "datum.r == 'AFRO'"}], "mark": {"type": "line", "strokeWidth": 2.1, "clip": true}, "encoding": {"color": {"field": "c", "type": "nominal", "legend": null, "scale": {"domain": ["Türkei","Deutschland","Großbritannien","Russland","Schweden","Chile","Mexiko","Peru","Brasilien","USA","Algerien","Südafrika","Nigeria","Demokratische Republik Kongo","Äthiopien","Iran","Pakistan","Irak","Palästina","Saudi-Arabien","Bangladesch","Indonesien","Thailand","Indien","Nepal","China","Australien","Japan","Südkorea","Singapur"], "range": ["#FFA500","#008B8B","#1E7A1E","#9E1414","#14149A","#FFA500","#14149A","#008B8B","#1E7A1E","#9E1414","#1E7A1E","#9E1414","#14149A","#FFA500","#008B8B","#1E7A1E","#9E1414","#FFA500","#008B8B","#14149A","#1E7A1E","#14149A","#008B8B","#9E1414","#FFA500","#9E1414","#008B8B","#FFA500","#14149A","#1E7A1E"]}}}},
    {"data": {"name": "doubling"}, "mark": {"type": "line", "strokeWidth": 2.5, "strokeDash": [10, 7], "color": "#87C8E6", "clip": true}, "encoding": {"detail": {"field": "t", "type": "nominal"}}},
    {"data": {"name": "dlabels"}, "mark": {"type": "text", "align": "left", "baseline": "middle", "fontSize": 13, "color": "#1A1A1A", "clip": true}, "encoding": {"text": {"field": "t", "type": "nominal"}}},
    {"data": {"name": "clabels"}, "transform": [{"filter": "datum.r == 'AFRO'"}], "mark": {"type": "text", "align": "right", "baseline": "middle", "fontSize": 12.2, "clip": true}, "encoding": {"text": {"field": "c", "type": "nominal"}, "color": {"field": "c", "type": "nominal", "legend": null}}}
   ]}
 ]},
 {"spacing": -1, "vconcat": [
  {"width": 550, "height": 25, "data": {"values": [{"r": "EMRO"}]}, "view": {"fill": "#D9D9D9", "stroke": "#333333"}, "mark": {"type": "text", "fontSize": 12.5, "color": "#1A1A1A"}, "encoding": {"text": {"field": "r", "type": "nominal"}}},
  {"width": 550, "height": 332.3,
   "encoding": {
    "x": {"field": "d", "type": "quantitative", "scale": {"domain": [-20.25, 95.25], "nice": false, "zero": false}, "axis": {"values": [-12.5, 0, 12.5, 25, 37.5, 50, 62.5, 75, 87.5], "labels": false, "ticks": false, "minExtent": 0, "maxExtent": 0, "gridColor": {"condition": {"test": "datum.value % 25 == 0", "value": "#E6E6E6"}, "value": "#F2F2F2"}}},
    "y": {"field": "n", "type": "quantitative", "scale": {"type": "log", "domain": [56.234, 17782794], "nice": false}, "axis": {"values": [100, 1000, 10000, 100000, 1000000, 10000000], "labels": false, "ticks": false, "minExtent": 0, "maxExtent": 0, "gridColor": {"condition": {"test": "datum.value == 1000 || datum.value == 100000 || datum.value == 10000000", "value": "#E6E6E6"}, "value": "#F2F2F2"}}}
   },
   "layer": [
    {"data": {"name": "cases"}, "transform": [{"filter": "datum.r == 'EMRO'"}], "mark": {"type": "line", "strokeWidth": 2.1, "clip": true}, "encoding": {"color": {"field": "c", "type": "nominal", "legend": null, "scale": {"domain": ["Türkei","Deutschland","Großbritannien","Russland","Schweden","Chile","Mexiko","Peru","Brasilien","USA","Algerien","Südafrika","Nigeria","Demokratische Republik Kongo","Äthiopien","Iran","Pakistan","Irak","Palästina","Saudi-Arabien","Bangladesch","Indonesien","Thailand","Indien","Nepal","China","Australien","Japan","Südkorea","Singapur"], "range": ["#FFA500","#008B8B","#1E7A1E","#9E1414","#14149A","#FFA500","#14149A","#008B8B","#1E7A1E","#9E1414","#1E7A1E","#9E1414","#14149A","#FFA500","#008B8B","#1E7A1E","#9E1414","#FFA500","#008B8B","#14149A","#1E7A1E","#14149A","#008B8B","#9E1414","#FFA500","#9E1414","#008B8B","#FFA500","#14149A","#1E7A1E"]}}}},
    {"data": {"name": "doubling"}, "mark": {"type": "line", "strokeWidth": 2.5, "strokeDash": [10, 7], "color": "#87C8E6", "clip": true}, "encoding": {"detail": {"field": "t", "type": "nominal"}}},
    {"data": {"name": "dlabels"}, "mark": {"type": "text", "align": "left", "baseline": "middle", "fontSize": 13, "color": "#1A1A1A", "clip": true}, "encoding": {"text": {"field": "t", "type": "nominal"}}},
    {"data": {"name": "clabels"}, "transform": [{"filter": "datum.r == 'EMRO'"}], "mark": {"type": "text", "align": "right", "baseline": "middle", "fontSize": 12.2, "clip": true}, "encoding": {"text": {"field": "c", "type": "nominal"}, "color": {"field": "c", "type": "nominal", "legend": null}}}
   ]}
 ]}
]},
{"spacing": 7, "hconcat": [
 {"spacing": -1, "vconcat": [
  {"width": 550, "height": 25, "data": {"values": [{"r": "SEARO"}]}, "view": {"fill": "#D9D9D9", "stroke": "#333333"}, "mark": {"type": "text", "fontSize": 12.5, "color": "#1A1A1A"}, "encoding": {"text": {"field": "r", "type": "nominal"}}},
  {"width": 550, "height": 332.3,
   "encoding": {
    "x": {"field": "d", "type": "quantitative", "scale": {"domain": [-20.25, 95.25], "nice": false, "zero": false}, "axis": {"values": [-12.5, 0, 12.5, 25, 37.5, 50, 62.5, 75, 87.5], "format": "d", "labelExpr": "datum.value % 25 == 0 ? datum.label : ''", "tickOpacity": {"condition": {"test": "datum.value % 25 == 0", "value": 1}, "value": 0}, "gridColor": {"condition": {"test": "datum.value % 25 == 0", "value": "#E6E6E6"}, "value": "#F2F2F2"}}},
    "y": {"field": "n", "type": "quantitative", "scale": {"type": "log", "domain": [56.234, 17782794], "nice": false}, "axis": {"values": [100, 1000, 10000, 100000, 1000000, 10000000], "format": "d", "labelExpr": "(datum.value == 1000 || datum.value == 100000 || datum.value == 10000000) ? datum.label : ''", "tickOpacity": {"condition": {"test": "datum.value == 1000 || datum.value == 100000 || datum.value == 10000000", "value": 1}, "value": 0}, "gridColor": {"condition": {"test": "datum.value == 1000 || datum.value == 100000 || datum.value == 10000000", "value": "#E6E6E6"}, "value": "#F2F2F2"}}}
   },
   "layer": [
    {"data": {"name": "cases"}, "transform": [{"filter": "datum.r == 'SEARO'"}], "mark": {"type": "line", "strokeWidth": 2.1, "clip": true}, "encoding": {"color": {"field": "c", "type": "nominal", "legend": null, "scale": {"domain": ["Türkei","Deutschland","Großbritannien","Russland","Schweden","Chile","Mexiko","Peru","Brasilien","USA","Algerien","Südafrika","Nigeria","Demokratische Republik Kongo","Äthiopien","Iran","Pakistan","Irak","Palästina","Saudi-Arabien","Bangladesch","Indonesien","Thailand","Indien","Nepal","China","Australien","Japan","Südkorea","Singapur"], "range": ["#FFA500","#008B8B","#1E7A1E","#9E1414","#14149A","#FFA500","#14149A","#008B8B","#1E7A1E","#9E1414","#1E7A1E","#9E1414","#14149A","#FFA500","#008B8B","#1E7A1E","#9E1414","#FFA500","#008B8B","#14149A","#1E7A1E","#14149A","#008B8B","#9E1414","#FFA500","#9E1414","#008B8B","#FFA500","#14149A","#1E7A1E"]}}}},
    {"data": {"name": "doubling"}, "mark": {"type": "line", "strokeWidth": 2.5, "strokeDash": [10, 7], "color": "#87C8E6", "clip": true}, "encoding": {"detail": {"field": "t", "type": "nominal"}}},
    {"data": {"name": "dlabels"}, "mark": {"type": "text", "align": "left", "baseline": "middle", "fontSize": 13, "color": "#1A1A1A", "clip": true}, "encoding": {"text": {"field": "t", "type": "nominal"}}},
    {"data": {"name": "clabels"}, "transform": [{"filter": "datum.r == 'SEARO'"}], "mark": {"type": "text", "align": "right", "baseline": "middle", "fontSize": 12.2, "clip": true}, "encoding": {"text": {"field": "c", "type": "nominal"}, "color": {"field": "c", "type": "nominal", "legend": null}}}
   ]}
 ]},
 {"spacing": -1, "vconcat": [
  {"width": 550, "height": 25, "data": {"values": [{"r": "WPRO"}]}, "view": {"fill": "#D9D9D9", "stroke": "#333333"}, "mark": {"type": "text", "fontSize": 12.5, "color": "#1A1A1A"}, "encoding": {"text": {"field": "r", "type": "nominal"}}},
  {"width": 550, "height": 332.3,
   "encoding": {
    "x": {"field": "d", "type": "quantitative", "scale": {"domain": [-20.25, 95.25], "nice": false, "zero": false}, "axis": {"values": [-12.5, 0, 12.5, 25, 37.5, 50, 62.5, 75, 87.5], "format": "d", "labelExpr": "datum.value % 25 == 0 ? datum.label : ''", "tickOpacity": {"condition": {"test": "datum.value % 25 == 0", "value": 1}, "value": 0}, "gridColor": {"condition": {"test": "datum.value % 25 == 0", "value": "#E6E6E6"}, "value": "#F2F2F2"}}},
    "y": {"field": "n", "type": "quantitative", "scale": {"type": "log", "domain": [56.234, 17782794], "nice": false}, "axis": {"values": [100, 1000, 10000, 100000, 1000000, 10000000], "labels": false, "ticks": false, "minExtent": 0, "maxExtent": 0, "gridColor": {"condition": {"test": "datum.value == 1000 || datum.value == 100000 || datum.value == 10000000", "value": "#E6E6E6"}, "value": "#F2F2F2"}}}
   },
   "layer": [
    {"data": {"name": "cases"}, "transform": [{"filter": "datum.r == 'WPRO'"}], "mark": {"type": "line", "strokeWidth": 2.1, "clip": true}, "encoding": {"color": {"field": "c", "type": "nominal", "legend": null, "scale": {"domain": ["Türkei","Deutschland","Großbritannien","Russland","Schweden","Chile","Mexiko","Peru","Brasilien","USA","Algerien","Südafrika","Nigeria","Demokratische Republik Kongo","Äthiopien","Iran","Pakistan","Irak","Palästina","Saudi-Arabien","Bangladesch","Indonesien","Thailand","Indien","Nepal","China","Australien","Japan","Südkorea","Singapur"], "range": ["#FFA500","#008B8B","#1E7A1E","#9E1414","#14149A","#FFA500","#14149A","#008B8B","#1E7A1E","#9E1414","#1E7A1E","#9E1414","#14149A","#FFA500","#008B8B","#1E7A1E","#9E1414","#FFA500","#008B8B","#14149A","#1E7A1E","#14149A","#008B8B","#9E1414","#FFA500","#9E1414","#008B8B","#FFA500","#14149A","#1E7A1E"]}}}},
    {"data": {"name": "doubling"}, "mark": {"type": "line", "strokeWidth": 2.5, "strokeDash": [10, 7], "color": "#87C8E6", "clip": true}, "encoding": {"detail": {"field": "t", "type": "nominal"}}},
    {"data": {"name": "dlabels"}, "mark": {"type": "text", "align": "left", "baseline": "middle", "fontSize": 13, "color": "#1A1A1A", "clip": true}, "encoding": {"text": {"field": "t", "type": "nominal"}}},
    {"data": {"name": "clabels"}, "transform": [{"filter": "datum.r == 'WPRO'"}], "mark": {"type": "text", "align": "right", "baseline": "middle", "fontSize": 12.2, "clip": true}, "encoding": {"text": {"field": "c", "type": "nominal"}, "color": {"field": "c", "type": "nominal", "legend": null}}}
   ]}
 ]}
]}
]
}
